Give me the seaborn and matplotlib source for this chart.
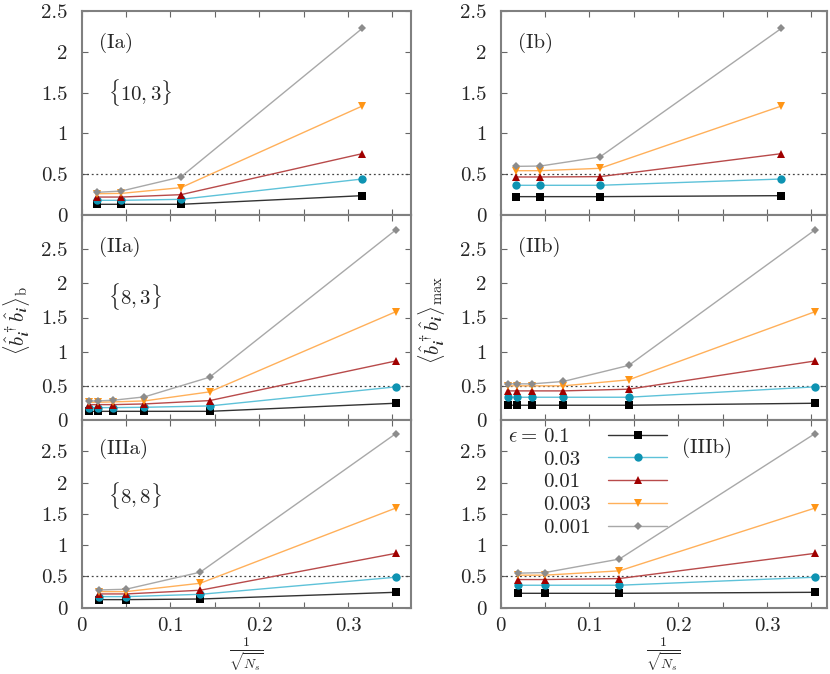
import numpy as np
import matplotlib
matplotlib.use("Agg")
import matplotlib.pyplot as plt
from matplotlib.lines import Line2D
from matplotlib.ticker import MultipleLocator, FuncFormatter
import seaborn as sns

# x positions: 1/sqrt(N_s) for each lattice
x_103 = [0.0177, 0.0448, 0.1118, 0.3162]
x_83 = [0.0088, 0.0181, 0.0354, 0.0707, 0.1443, 0.3536]
x_88 = [0.0200, 0.0500, 0.1336, 0.3536]

eps_labels = ["0.1", "0.03", "0.01", "0.003", "0.001"]

# <b^dag b>_b  (left column), rows: eps = 0.1, 0.03, 0.01, 0.003, 0.001
ia_vals = [[0.131, 0.131, 0.131, 0.237],
           [0.180, 0.180, 0.192, 0.441],
           [0.220, 0.220, 0.249, 0.752],
           [0.261, 0.265, 0.335, 1.336],
           [0.278, 0.294, 0.466, 2.288]]
iia_vals = [[0.127, 0.127, 0.127, 0.127, 0.127, 0.245],
            [0.181, 0.181, 0.181, 0.186, 0.206, 0.485],
            [0.225, 0.225, 0.225, 0.235, 0.284, 0.863],
            [0.260, 0.260, 0.265, 0.279, 0.412, 1.583],
            [0.279, 0.279, 0.289, 0.338, 0.627, 2.779]]
iiia_vals = [[0.129, 0.129, 0.139, 0.246],
             [0.177, 0.177, 0.214, 0.487],
             [0.220, 0.220, 0.279, 0.868],
             [0.257, 0.257, 0.391, 1.591],
             [0.284, 0.295, 0.568, 2.780]]

# <b^dag b>_max  (right column)
ib_vals = [[0.225, 0.225, 0.225, 0.237],
           [0.364, 0.364, 0.364, 0.441],
           [0.466, 0.466, 0.470, 0.752],
           [0.543, 0.543, 0.572, 1.336],
           [0.596, 0.600, 0.711, 2.288]]
iib_vals = [[0.216, 0.216, 0.216, 0.216, 0.216, 0.245],
            [0.333, 0.333, 0.333, 0.333, 0.333, 0.485],
            [0.426, 0.426, 0.426, 0.426, 0.451, 0.863],
            [0.500, 0.500, 0.500, 0.500, 0.588, 1.583],
            [0.529, 0.529, 0.529, 0.564, 0.799, 2.779]]
iiib_vals = [[0.230, 0.230, 0.230, 0.246],
             [0.359, 0.359, 0.359, 0.487],
             [0.450, 0.450, 0.466, 0.868],
             [0.520, 0.520, 0.589, 1.591],
             [0.552, 0.562, 0.777, 2.780]]

marker_colors = ["#000000", "#0e93b2", "#a00000", "#ff9516", "#8c8c8c"]
line_colors = ["#333333", "#5ec2d9", "#b84a4a", "#ffb05a", "#a8a8a8"]
markers = ["s", "o", "^", "v", "D"]
msizes = [6.0, 6.0, 5.5, 5.5, 4.0]

sns.set_style("ticks")
plt.rcParams["font.family"] = ["cmr10", "DejaVu Serif"]
plt.rcParams["mathtext.fontset"] = "cm"
plt.rcParams["axes.formatter.use_mathtext"] = True
FS = 15

fig = plt.figure(figsize=(8.3, 6.74), dpi=100)
W, H = 830.0, 674.0
cols = [(81.6, 329.4, 0.371), (500.6, 326.0, 0.367)]
rows = [(11.0, 215.0, 2.5), (215.0, 420.0, 3.0), (420.0, 607.7, 3.0)]

panels = [
    [("(Ia)", r"$\{10,3\}$", x_103, ia_vals), ("(Ib)", None, x_103, ib_vals)],
    [("(IIa)", r"$\{8,3\}$", x_83, iia_vals), ("(IIb)", None, x_83, iib_vals)],
    [("(IIIa)", r"$\{8,8\}$", x_88, iiia_vals), ("(IIIb)", None, x_88, iiib_vals)],
]

fmt = FuncFormatter(lambda v, p: ("%g" % round(v, 3)))

for r, (top, bot, ymax) in enumerate(rows):
    for c, (left, width, xmax) in enumerate(cols):
        ax = fig.add_axes([left / W, 1 - bot / H, width / W, (bot - top) / H])
        tag, lattice, xs, vals = panels[r][c]
        ax.axhline(0.5, color="#444444", lw=0.9, ls=(0, (1.5, 2.2)), zorder=1)
        for k in range(5):
            sns.lineplot(x=xs, y=vals[k], ax=ax, color=line_colors[k], lw=1.0,
                         marker=markers[k], markersize=msizes[k],
                         markerfacecolor=marker_colors[k],
                         markeredgecolor=marker_colors[k], markeredgewidth=0,
                         label=eps_labels[k], legend=False, zorder=3 + k)
        ax.set_xlim(0, xmax)
        ax.set_ylim(0, ymax)
        ax.xaxis.set_major_locator(MultipleLocator(0.1))
        ax.xaxis.set_minor_locator(MultipleLocator(0.05))
        ax.set_yticks(np.arange(0, 2.51, 0.5))
        ax.yaxis.set_major_formatter(fmt)
        ax.xaxis.set_major_formatter(fmt)
        ax.tick_params(which="both", direction="in", top=True, right=True,
                       length=4, width=0.8, color="#666666", labelsize=FS, pad=10)
        ax.tick_params(axis="x", pad=7)
        if r < 2:
            ax.tick_params(labelbottom=False)
        for s in ax.spines.values():
            s.set_color("#808080")
            s.set_linewidth(1.5)
        ax.set_xlabel("")
        ax.set_ylabel("")
        if r == 2 and c == 1:
            ax.text(0.555, 0.85, tag, transform=ax.transAxes, fontsize=FS,
                    ha="left", va="center")
            # gnuplot-style key: a column of labels, then a column of samples
            h, l = ax.get_legend_handles_labels()
            blanks = [Line2D([], [], color="none") for _ in h]
            key_opts = dict(loc="upper left", frameon=False, fontsize=FS,
                            labelspacing=0.2, borderpad=0.2, borderaxespad=0.0)
            leg_txt = ax.legend(blanks, l, bbox_to_anchor=(0.117, 0.983),
                                handlelength=0, handletextpad=0, **key_opts)
            ax.add_artist(leg_txt)
            ax.legend(h, [""] * len(h), bbox_to_anchor=(0.3166, 0.983),
                      handlelength=2.85, handletextpad=0, **key_opts)
            ax.annotate(r"$\epsilon =$", xy=(0, 0), xycoords=leg_txt.get_texts()[0],
                        xytext=(-4, 2.9), textcoords="offset points",
                        ha="right", va="baseline", fontsize=FS, zorder=10)
        else:
            ax.text(0.052, 0.845, tag, transform=ax.transAxes, fontsize=FS,
                    ha="left", va="center")
        if lattice is not None:
            ax.text(0.08, 0.6, lattice, transform=ax.transAxes, fontsize=FS,
                    ha="left", va="center")
        if r == 2:
            ax.set_xlabel(r"$\frac{1}{\sqrt{N_s}}$", fontsize=14, labelpad=0)

fig.text(17 / W, 1 - 320 / H,
         r"$\langle \hat{b}^\dagger_{\boldsymbol{i}}\hat{b}_{\boldsymbol{i}}\rangle_{\rm b}$",
         rotation=90, fontsize=FS, ha="center", va="center")
fig.text(431 / W, 1 - 320 / H,
         r"$\langle \hat{b}^\dagger_{\boldsymbol{i}}\hat{b}_{\boldsymbol{i}}\rangle_{\max}$",
         rotation=90, fontsize=FS, ha="center", va="center")

fig.savefig("out.png", dpi=100)
